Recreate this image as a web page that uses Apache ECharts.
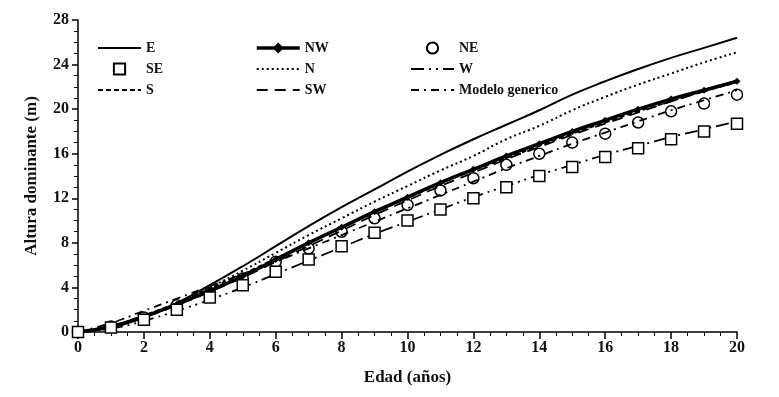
<!DOCTYPE html>
<html>
<head>
<meta charset="utf-8">
<script src="https://cdn.jsdelivr.net/npm/echarts@6/dist/echarts.min.js"></script>
<style>
  html, body { margin: 0; padding: 0; background: #fff; }
  #chart { width: 779px; height: 397px; }
</style>
</head>
<body>
<div id="chart"></div>
<script>
// edades (años)
var ages = [0,1,2,3,4,5,6,7,8,9,10,11,12,13,14,15,16,17,18,19,20];
var xTicks = [0,2,4,6,8,10,12,14,16,18,20];
var yTicks = [0,4,8,12,16,20,24,28];

// altura dominante por exposición
var E   = [0,0.4,1.3,2.6,4.2,5.9,7.7,9.5,11.2,12.8,14.4,15.9,17.3,18.6,19.9,21.3,22.5,23.6,24.6,25.5,26.4];
var N   = [0,0.5,1.4,2.6,4.0,5.5,7.1,8.7,10.2,11.7,13.1,14.5,15.8,17.3,18.5,19.9,21.1,22.2,23.2,24.2,25.1];
var NW  = [0,0.5,1.4,2.5,3.7,5.0,6.5,8.0,9.4,10.8,12.1,13.4,14.6,15.8,16.9,18.0,19.0,20.0,20.9,21.7,22.5];
var NE  = [0,0.5,1.3,2.4,3.5,4.8,6.3,7.5,9.0,10.2,11.4,12.7,13.8,15.0,16.0,17.0,17.8,18.8,19.8,20.5,21.3];
var SE  = [0,0.4,1.1,2.0,3.1,4.2,5.4,6.5,7.7,8.9,10.0,11.0,12.0,13.0,14.0,14.8,15.7,16.5,17.3,18.0,18.7];
var W   = [0,0.3,1.0,1.9,2.9,4.0,5.2,6.4,7.6,8.8,9.9,11.0,12.1,13.1,14.1,15.0,15.9,16.7,17.5,18.2,18.9];
var S   = [0,0.5,1.5,2.6,3.9,5.2,6.6,8.0,9.4,10.7,12.0,13.3,14.5,15.6,16.7,17.8,18.8,19.8,20.7,21.6,22.4];
var SW  = [0,0.4,1.3,2.4,3.6,4.9,6.3,7.7,9.1,10.5,11.8,13.1,14.3,15.5,16.6,17.7,18.7,19.7,20.7,21.6,22.5];
var MG  = [0,0.8,1.9,3.0,4.1,5.2,6.3,7.5,8.7,9.9,11.1,12.3,13.5,14.7,15.8,16.9,17.9,18.9,19.9,20.8,21.7];

function pts(arr){
    return ages.map(function(a, i){ return [a, arr[i]]; });
}

var fontFam = '"Liberation Serif", "DejaVu Serif", serif';
var dom = document.getElementById('chart');
var myChart = echarts.init(dom);

function lineSerie(name, data, width, type){
    return {
        name: name,
        type: 'line',
        smooth: true,
        showSymbol: false,
        symbol: 'none',
        data: pts(data),
        lineStyle: { color: '#000', width: width, type: type },
        itemStyle: { color: '#000' }
    };
}

// solo la línea en la leyenda, sin símbolo
function noSym(name){
    return { name: name, itemStyle: { color: 'rgba(0,0,0,0)', borderWidth: 0, opacity: 0 } };
}

var legendText = { fontFamily: fontFam, fontSize: 14, color: '#111', fontWeight: 'bold' };
var legendBase = { top: 41, orient: 'vertical', itemGap: 7, itemWidth: 43, itemHeight: 14, padding: 0, textStyle: legendText };

myChart.setOption({
    animation: false,
    backgroundColor: '#fff',
    grid: { left: 78, right: 42, top: 20, bottom: 65 },
    legend: [
        Object.assign({ left: 97, data: [noSym('E'), 'SE', noSym('S')] }, legendBase),
        Object.assign({ left: 255, data: [
            { name: 'NW', lineStyle: { width: 3.5 } }, noSym('N'), noSym('SW')] }, legendBase),
        Object.assign({ left: 410, data: ['NE', noSym('W'), noSym('Modelo generico')] }, legendBase)
    ],
    xAxis: {
        type: 'value',
        min: 0, max: 20, interval: 2,
        name: 'Edad (años)',
        nameLocation: 'middle',
        nameGap: 37,
        nameTextStyle: { fontFamily: fontFam, fontSize: 17, color: '#111', fontWeight: 'bold' },
        axisLine: { lineStyle: { color: '#000', width: 1.5 } },
        axisTick: { length: 7, lineStyle: { color: '#000', width: 1.5 } },
        minorTick: { show: true, splitNumber: 4, length: 4, lineStyle: { color: '#000' } },
        splitLine: { show: false },
        axisLabel: {
            fontFamily: fontFam, fontSize: 16, color: '#111', margin: 8, fontWeight: 'bold',
            formatter: function(v){ return xTicks.indexOf(v) >= 0 ? String(v) : ''; }
        }
    },
    yAxis: {
        type: 'value',
        min: 0, max: 28, interval: 4,
        name: 'Altura dominante (m)',
        nameLocation: 'middle',
        nameGap: 38,
        nameTextStyle: { fontFamily: fontFam, fontSize: 17, color: '#111', fontWeight: 'bold' },
        axisLine: { show: true, lineStyle: { color: '#000', width: 1.5 } },
        axisTick: { show: true, length: 6, lineStyle: { color: '#000', width: 1.5 } },
        minorTick: { show: true, splitNumber: 4, length: 4, lineStyle: { color: '#000' } },
        splitLine: { show: false },
        axisLabel: {
            fontFamily: fontFam, fontSize: 16, color: '#111', margin: 9, fontWeight: 'bold',
            formatter: function(v){ return yTicks.indexOf(v) >= 0 ? String(v) : ''; }
        }
    },
    series: [
        lineSerie('E', E, 2, 'solid'),
        lineSerie('N', N, 2, [2, 3]),
        lineSerie('S', S, 1.8, [5, 3]),
        lineSerie('SW', SW, 1.8, [11, 7]),
        lineSerie('W', W, 1.8, [13, 5, 2, 5, 2, 5]),
        lineSerie('Modelo generico', MG, 1.8, [8, 5, 2, 5]),
        {
            name: 'NW',
            type: 'line',
            smooth: true,
            data: pts(NW),
            symbol: 'diamond',
            symbolSize: 7,
            showSymbol: true,
            lineStyle: { color: '#000', width: 3.5 },
            itemStyle: { color: '#000' }
        },
        {
            name: 'NE',
            type: 'line',
            data: pts(NE),
            symbol: 'circle',
            symbolSize: 11,
            showSymbol: true,
            lineStyle: { width: 0, opacity: 0 },
            itemStyle: { color: 'rgba(255,255,255,0)', borderColor: '#000', borderWidth: 1.5 },
            z: 5
        },
        {
            name: 'SE',
            type: 'line',
            data: pts(SE),
            symbol: 'rect',
            symbolSize: 11,
            showSymbol: true,
            lineStyle: { width: 0, opacity: 0 },
            itemStyle: { color: '#fff', borderColor: '#000', borderWidth: 1.5 },
            z: 5
        }
    ]
});
window.addEventListener('resize', function(){
    myChart.resize();
});
</script>
</body>
</html>
